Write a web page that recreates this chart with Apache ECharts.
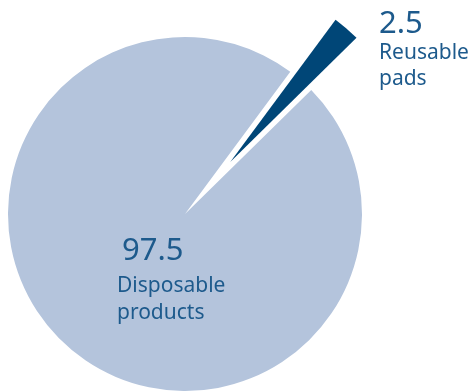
<!DOCTYPE html>
<html>
<head>
<meta charset="utf-8">
<script src="https://cdn.jsdelivr.net/npm/echarts@6/dist/echarts.min.js"></script>
<style>
html,body{margin:0;padding:0;background:#fff;}
#chart{width:469px;height:392px;}
</style>
</head>
<body>
<div id="chart"></div>
<script>
const categories = ['Disposable\nproducts', 'Reusable\npads'];
const values = [97.5, 2.5];
const colors = ['#b4c4dc', '#004677'];
const labelSpots = [[117, 229], [379, 8]];

const textColor = '#1d5a8c';
const startAngle = 44.5;
const pieCenter = [185, 214];
const pieRadius = 177;
const explode = 69;

const richFor = i => i === 0 ? {
  v: {fontFamily: 'Noto Sans', fontSize: 31, lineHeight: 44, color: textColor, padding: [0, 0, 0, 5]},
  n: {fontFamily: 'Noto Sans', fontSize: 21, lineHeight: 27, color: textColor}
} : {
  v: {fontFamily: 'Noto Sans', fontSize: 31, lineHeight: 32, color: textColor},
  n: {fontFamily: 'Noto Sans', fontSize: 21, lineHeight: 26, color: textColor}
};

// mid angle of the exploded (second) slice, derived from the data
const total = values.reduce((a, b) => a + b, 0);
const midDeg = startAngle - 360 * (values[0] + values[1] / 2) / total;
const midRad = midDeg * Math.PI / 180;
const explodedCenter = [pieCenter[0] + explode * Math.cos(midRad), pieCenter[1] - explode * Math.sin(midRad)];

function makeData(showIndex) {
  return categories.map((c, i) => ({
    name: c,
    value: values[i],
    itemStyle: {color: i === showIndex ? colors[i] : 'rgba(0,0,0,0)'},
    label: {show: i === showIndex, rich: richFor(i)}
  }));
}

const baseSeries = {
  type: 'pie',
  radius: [0, pieRadius],
  startAngle: startAngle,
  clockwise: true,
  silent: true,
  avoidLabelOverlap: false,
  emphasis: {disabled: true},
  itemStyle: {borderWidth: 0},
  labelLine: {show: false},
  label: {
    show: true,
    position: 'inside',
    fontFamily: 'Noto Sans',
    formatter: p => '{v|' + p.value + '}\n{n|' + p.name + '}'
  },
  labelLayout: params => ({
    x: labelSpots[params.dataIndex][0],
    y: labelSpots[params.dataIndex][1],
    align: 'left',
    verticalAlign: 'top'
  })
};

const chart = echarts.init(document.getElementById('chart'), null, {renderer: 'canvas'});
chart.setOption({
  animation: false,
  series: [
    Object.assign({}, baseSeries, {center: pieCenter, data: makeData(0)}),
    Object.assign({}, baseSeries, {center: explodedCenter, data: makeData(1)})
  ]
});
</script>
</body>
</html>
